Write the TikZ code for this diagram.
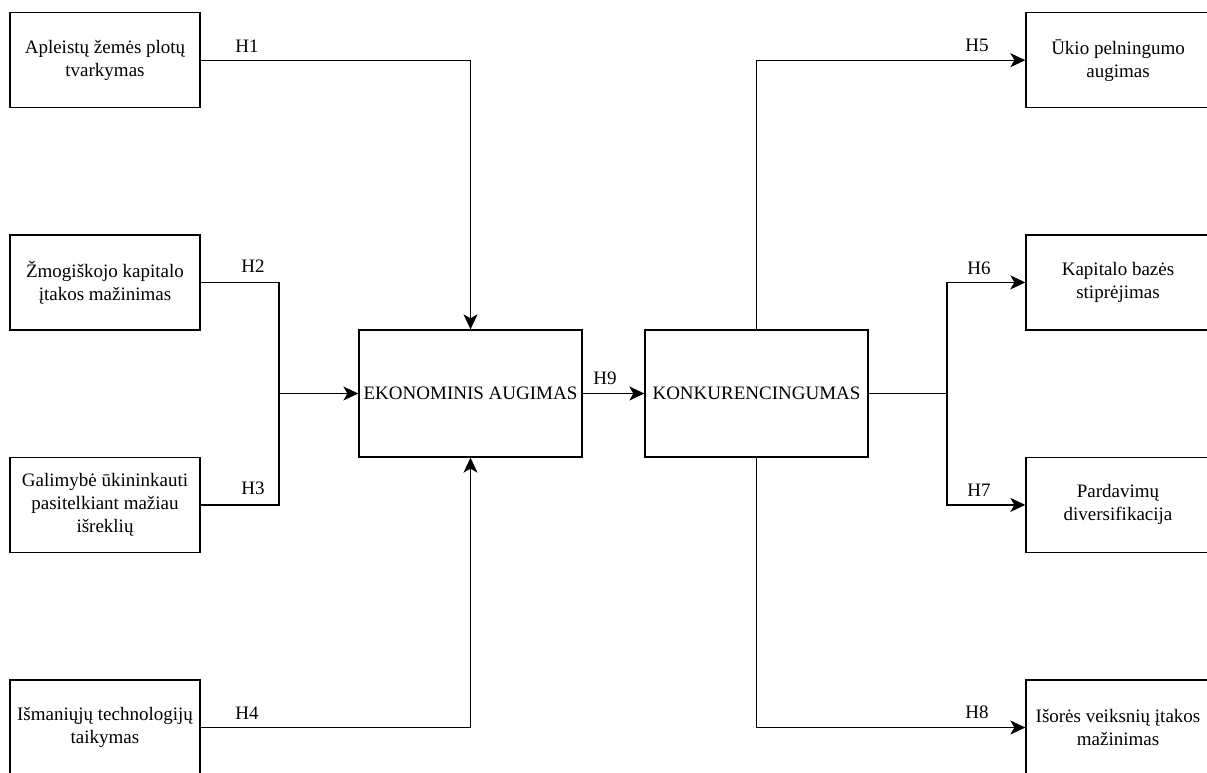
\documentclass[tikz,border=0pt]{standalone}
\usepackage{fontspec}
\setmainfont{Liberation Serif}
\usetikzlibrary{arrows.meta}
\begin{document}
\begin{tikzpicture}[x=1pt,y=-1pt,
  box/.style={draw=black,line width=1.3pt,inner sep=0pt,align=center,minimum width=190pt,minimum height=95pt,font=\fontsize{19}{23}\selectfont},
  bigbox/.style={draw=black,line width=1.3pt,inner sep=0pt,align=center,minimum width=223pt,minimum height=127pt,font=\fontsize{19}{23}\selectfont},
  rbox/.style={box,minimum width=184pt},
  conn/.style={line width=1.3pt},
  arr/.style={conn,-{Stealth[length=15pt,width=14pt,inset=4pt]}},
  lab/.style={inner sep=0pt,font=\fontsize{19}{23}\selectfont}]
\useasboundingbox (0,0) rectangle (1207,772);
\clip (0,0) rectangle (1207,772);
% left boxes
\node[box] (b1) at (105,60.2) {Apleistų žemės plotų\\tvarkymas};
\node[box] (b2) at (105,282.4) {Žmogiškojo kapitalo\\įtakos mažinimas};
\node[box] (b3) at (105,504.9) {Galimybė ūkininkauti\\pasitelkiant mažiau\\išreklių};
\node[box] (b4) at (105,727.5) {Išmaniųjų technologijų\\taikymas};
% central boxes
\node[bigbox] (ek) at (470.5,393.5) {EKONOMINIS AUGIMAS};
\node[bigbox] (ko) at (756.5,393.5) {KONKURENCINGUMAS};
% right boxes
\node[rbox] (b5) at (1118,60.2) {Ūkio pelningumo\\augimas};
\node[rbox] (b6) at (1118,282.4) {Kapitalo bazės\\stiprėjimas};
\node[rbox] (b7) at (1118,504.9) {Pardavimų\\diversifikacija};
\node[rbox] (b8) at (1118,727.5) {Išorės veiksnių įtakos\\mažinimas};
% junctions
\coordinate (j1) at (279,393.5);
\coordinate (j2) at (947,393.5);
% connectors
\draw[arr] (b1.east) -| (ek.north);
\draw[arr] (b4.east) -| (ek.south);
\draw[conn] (b2.east) -| (j1);
\draw[conn] (b3.east) -| (j1);
\draw[arr] (j1) -- (ek.west);
\draw[arr] (ek.east) -- (ko.west);
\draw[arr] (ko.north) |- (b5.west);
\draw[arr] (ko.south) |- (b8.west);
\draw[conn] (ko.east) -- (j2);
\draw[arr] (j2) |- (b6.west);
\draw[arr] (j2) |- (b7.west);
% labels
\node[lab] (h1) at (247,46) {H1};
\node[lab] (h2) at (253,266) {H2};
\node[lab] (h3) at (253,488) {H3};
\node[lab] (h4) at (247,713) {H4};
\node[lab] (h9) at (605,378) {H9};
\node[lab] (h5) at (977,45) {H5};
\node[lab] (h6) at (979,268) {H6};
\node[lab] (h7) at (979,490) {H7};
\node[lab] (h8) at (977,712) {H8};
\end{tikzpicture}
\end{document}
